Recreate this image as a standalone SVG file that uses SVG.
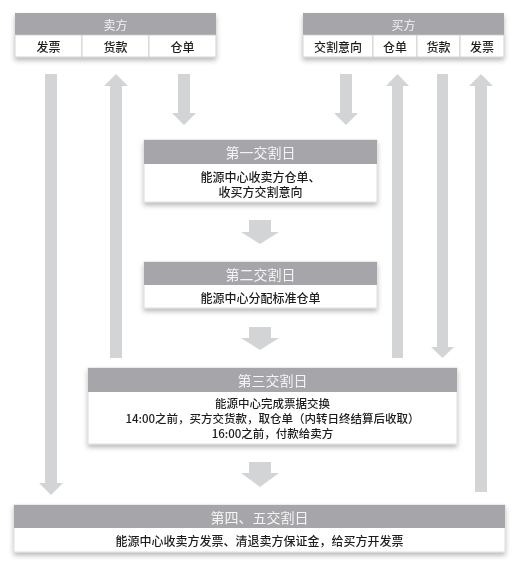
<svg xmlns="http://www.w3.org/2000/svg" width="520" height="580" viewBox="0 0 520 580">
<defs>
<filter id="sh" x="-10%" y="-20%" width="120%" height="150%">
<feDropShadow dx="0" dy="3" stdDeviation="2.5" flood-color="#000" flood-opacity="0.28"/>
</filter>
<style>
.hdr{fill:#a6a6aa}
.body{fill:#fff;stroke:#d4d4d6;stroke-width:0.8}
.cell{fill:#fff;stroke:#c8c8ca;stroke-width:0.8}
.arr{fill:#d3d4d6}
text{font-family:"Noto Sans CJK SC","Noto Sans",sans-serif;text-anchor:middle;dominant-baseline:central}
.ht{fill:#f4f4f4;font-size:14px}
.hs{fill:#f4f4f4;font-size:12px}
.bt{fill:#1e1e1e;font-size:12px;font-weight:500}
.b3{fill:#1e1e1e;font-size:11.5px;font-weight:500}
</style>
</defs>
<rect width="520" height="580" fill="#fff"/>
<g id="connectors">
<polygon class="arr" points="45,74 57,74 57,483 63,483 51,495 39,483 45,483"/>
<polygon class="arr" points="116,74 128,86 122,86 122,358 110,358 110,86 104,86"/>
<polygon class="arr" points="178,74 190,74 190,113 196,113 184,125 172,113 178,113"/>
<polygon class="arr" points="340,74 352,74 352,113 358,113 346,125 334,113 340,113"/>
<polygon class="arr" points="397.5,74 409,86 403,86 403,358 392,358 392,86 386,86"/>
<polygon class="arr" points="437,74 448,74 448,347 454,347 442.5,358 431,347 437,347"/>
<polygon class="arr" points="481,74 493,86 487,86 487,492 475,492 475,86 469,86"/>
<polygon class="arr" points="249,220 271,220 271,232 279,232 260,244 241,232 249,232"/>
<polygon class="arr" points="249,327 271,327 271,338 279,338 260,350 241,338 249,338"/>
<polygon class="arr" points="249,462 271,462 271,473 279,473 260,487 241,473 249,473"/>
</g>
<g id="seller" filter="url(#sh)">
<rect class="hdr" x="15" y="13" width="201" height="22"/>
<rect class="cell" x="15" y="35" width="67" height="22"/>
<rect class="cell" x="82" y="35" width="67" height="22"/>
<rect class="cell" x="149" y="35" width="67" height="22"/>
<text class="hs" x="115.5" y="24">卖方</text>
<text class="bt" x="48.5" y="46">发票</text>
<text class="bt" x="115.5" y="46">货款</text>
<text class="bt" x="182.5" y="46">仓单</text>
</g>
<g id="buyer" filter="url(#sh)">
<rect class="hdr" x="303" y="13" width="201" height="22"/>
<rect class="cell" x="303" y="35" width="70" height="22"/>
<rect class="cell" x="373" y="35" width="44" height="22"/>
<rect class="cell" x="417" y="35" width="43" height="22"/>
<rect class="cell" x="460" y="35" width="44" height="22"/>
<text class="hs" x="403.5" y="24">买方</text>
<text class="bt" x="338" y="46">交割意向</text>
<text class="bt" x="395" y="46">仓单</text>
<text class="bt" x="438.5" y="46">货款</text>
<text class="bt" x="482" y="46">发票</text>
</g>
<g id="day1" filter="url(#sh)">
<rect class="body" x="144" y="140" width="233" height="62"/>
<rect class="hdr" x="144" y="140" width="233" height="24"/>
<text class="ht" x="260.5" y="152">第一交割日</text>
<text class="bt" x="260.5" y="176">能源中心收卖方仓单、</text>
<text class="bt" x="260.5" y="191.5">收买方交割意向</text>
</g>
<g id="day2" filter="url(#sh)">
<rect class="body" x="144" y="262" width="233" height="46"/>
<rect class="hdr" x="144" y="262" width="233" height="23"/>
<text class="ht" x="260.5" y="273.5">第二交割日</text>
<text class="bt" x="260.5" y="297">能源中心分配标准仓单</text>
</g>
<g id="day3" filter="url(#sh)">
<rect class="body" x="88" y="368" width="369" height="76"/>
<rect class="hdr" x="88" y="368" width="369" height="24"/>
<text class="ht" x="272.5" y="380">第三交割日</text>
<text class="b3" x="272.5" y="402.5">能源中心完成票据交换</text>
<text class="b3" x="272.5" y="417.5">14:00之前，买方交货款，取仓单（内转日终结算后收取）</text>
<text class="b3" x="272.5" y="432.5">16:00之前，付款给卖方</text>
</g>
<g id="day45" filter="url(#sh)">
<rect class="body" x="14" y="505" width="491" height="47"/>
<rect class="hdr" x="14" y="505" width="491" height="23"/>
<text class="ht" x="259.5" y="516.5">第四、五交割日</text>
<text class="bt" x="259.5" y="540">能源中心收卖方发票、清退卖方保证金，给买方开发票</text>
</g>
</svg>
